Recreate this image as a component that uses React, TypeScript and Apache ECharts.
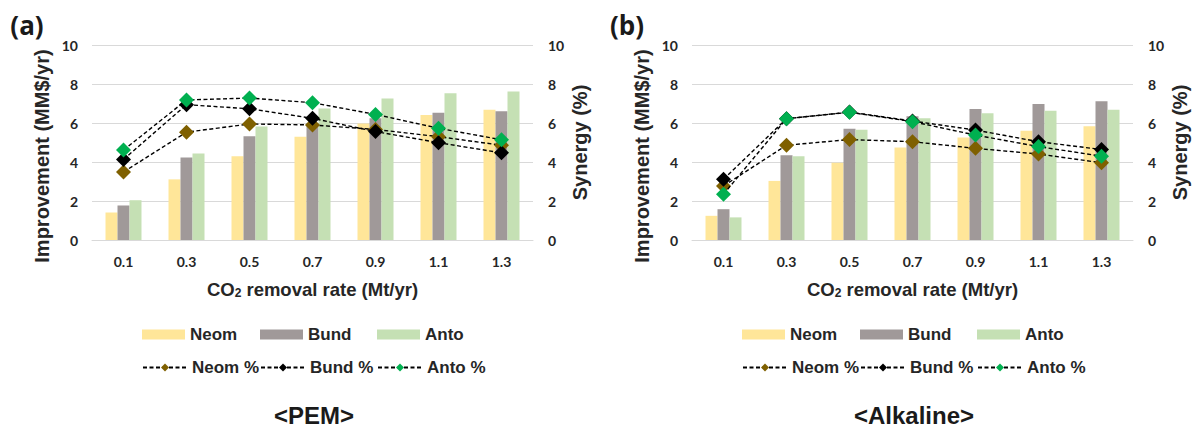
import React, { useEffect, useRef } from 'react';
import * as echarts from 'echarts';

const categories = ['0.1', '0.3', '0.5', '0.7', '0.9', '1.1', '1.3'];
const yTicks = [0, 2, 4, 6, 8, 10];

// (a) PEM
const pemNeom = [1.41, 3.11, 4.3, 5.3, 5.98, 6.41, 6.68];
const pemBund = [1.77, 4.23, 5.32, 6.0, 6.25, 6.53, 6.6];
const pemAnto = [2.04, 4.44, 5.82, 6.75, 7.26, 7.52, 7.62];
const pemNeomPct = [3.49, 5.53, 5.95, 5.9, 5.67, 5.3, 4.86];
const pemBundPct = [4.13, 6.94, 6.73, 6.24, 5.56, 4.99, 4.47];
const pemAntoPct = [4.61, 7.18, 7.28, 7.04, 6.44, 5.73, 5.14];

// (b) Alkaline
const alkNeom = [1.24, 3.03, 3.96, 4.74, 5.26, 5.6, 5.83];
const alkBund = [1.58, 4.35, 5.71, 6.34, 6.72, 6.97, 7.11];
const alkAnto = [1.16, 4.29, 5.66, 6.24, 6.5, 6.63, 6.68];
const alkNeomPct = [2.77, 4.86, 5.15, 5.04, 4.7, 4.41, 3.96];
const alkBundPct = [3.11, 6.22, 6.56, 6.1, 5.64, 5.04, 4.64];
const alkAntoPct = [2.35, 6.22, 6.55, 6.07, 5.38, 4.79, 4.3];

const barNames = ['Neom', 'Bund', 'Anto'];
const lineNames = ['Neom %', 'Bund %', 'Anto %'];
const panelLetters = ['(a)', '(b)'];
const panelTitles = ['<PEM>', '<Alkaline>'];
const xTitle = 'CO{sub|2} removal rate (Mt/yr)';
const yLeftTitle = 'Improvement (MM$/yr)';
const yRightTitle = 'Synergy (%)';

const barColors = ['#FFE699', '#A09999', '#C5E0B4'];
const markerColors = ['#7F6000', '#000000', '#00B050'];

const panels = [
  { bars: [pemNeom, pemBund, pemAnto], lines: [pemNeomPct, pemBundPct, pemAntoPct] },
  { bars: [alkNeom, alkBund, alkAnto], lines: [alkNeomPct, alkBundPct, alkAntoPct] },
];

const TXT = '#262626';
const ARIAL = '"Liberation Sans", Arial, sans-serif';
const LATO = 'Lato, "Liberation Sans", sans-serif';

export default function App() {
  const ref = useRef<HTMLDivElement>(null);
  useEffect(() => {
    if (!ref.current) return;
    const chart = echarts.init(ref.current, undefined, { renderer: 'svg' });
    const grid: any[] = [];
    const xAxis: any[] = [];
    const yAxis: any[] = [];
    const series: any[] = [];
    const legend: any[] = [];
    const graphic: any[] = [];
    panels.forEach((p, i) => {
      const off = i * 600;
      grid.push({ left: 92 + off, top: 45, width: 441, height: 195 });
      xAxis.push({
        type: 'category',
        gridIndex: i,
        data: categories,
        axisTick: { show: false },
        axisLine: { lineStyle: { color: '#D9D9D9', width: 1 } },
        axisLabel: { fontFamily: LATO, fontWeight: 'bold', fontSize: 14, color: TXT, margin: 14 },
        name: xTitle,
        nameLocation: 'middle',
        nameGap: 40,
        nameTextStyle: {
          fontFamily: ARIAL,
          fontWeight: 'bold',
          fontSize: 18.5,
          color: TXT,
          rich: { sub: { fontFamily: ARIAL, fontWeight: 'bold', fontSize: 12, color: TXT, padding: [6, 0, 0, 0] } },
        },
      });
      const yBase = {
        type: 'value',
        gridIndex: i,
        min: yTicks[0],
        max: yTicks[yTicks.length - 1],
        interval: 2,
        axisTick: { show: false },
        axisLine: { show: false },
        axisLabel: { fontFamily: LATO, fontWeight: 'bold', fontSize: 14, color: TXT },
      };
      yAxis.push({
        ...yBase,
        position: 'left',
        axisLabel: { ...yBase.axisLabel, margin: 14 },
        splitLine: { lineStyle: { color: '#D9D9D9', width: 1 } },
      });
      yAxis.push({
        ...yBase,
        position: 'right',
        name: yRightTitle,
        nameLocation: 'middle',
        nameRotate: 90,
        nameGap: 37,
        nameTextStyle: { fontFamily: ARIAL, fontWeight: 'bold', fontSize: 20, color: TXT },
        axisLabel: { ...yBase.axisLabel, margin: 15 },
        splitLine: { show: false },
      });
      p.bars.forEach((vals, k) => {
        series.push({
          type: 'bar',
          name: barNames[k],
          xAxisIndex: i,
          yAxisIndex: i * 2,
          data: vals,
          barWidth: 12,
          barGap: '0%',
          itemStyle: { color: barColors[k] },
          z: 2,
        });
      });
      p.lines.forEach((vals, k) => {
        series.push({
          type: 'line',
          name: lineNames[k],
          xAxisIndex: i,
          yAxisIndex: i * 2 + 1,
          data: vals,
          symbol: 'diamond',
          symbolSize: 15,
          lineStyle: { color: '#000', width: 1.4, type: [4, 2.5] },
          itemStyle: { color: markerColors[k] },
          z: 3 + k,
        });
      });
      const cols = [142, 260, 377];
      barNames.forEach((n, k) => {
        legend.push({
          data: [{ name: n, icon: 'rect' }],
          left: cols[k] + off,
          top: 326,
          padding: 0,
          itemWidth: 43,
          itemHeight: 10,
          itemGap: 6,
          selectedMode: false,
          textStyle: { fontFamily: ARIAL, fontWeight: 'bold', fontSize: 17, color: TXT },
        });
      });
      lineNames.forEach((n, k) => {
        legend.push({
          data: [n],
          left: cols[k] + off,
          top: 359,
          padding: 0,
          itemWidth: 44,
          itemHeight: 10,
          selectedMode: false,
          textStyle: { fontFamily: ARIAL, fontWeight: 'bold', fontSize: 17, color: TXT },
        });
      });
      graphic.push({
        type: 'text',
        x: 42 + off,
        y: 156,
        rotation: Math.PI / 2,
        style: {
          text: yLeftTitle,
          align: 'center',
          verticalAlign: 'middle',
          font: 'bold 20px "Liberation Sans", Arial, sans-serif',
          fill: TXT,
        },
      });
      graphic.push({
        type: 'text',
        x: 27 + off,
        y: 25,
        style: {
          text: panelLetters[i],
          align: 'center',
          verticalAlign: 'middle',
          font: 'bold 26px "Open Sans", sans-serif',
          fill: '#1a1a1a',
        },
      });
      graphic.push({
        type: 'text',
        x: 314 + off,
        y: 415,
        style: {
          text: panelTitles[i],
          align: 'center',
          verticalAlign: 'middle',
          font: 'bold 24px "Liberation Sans", Arial, sans-serif',
          fill: '#1a1a1a',
        },
      });
    });
    chart.setOption({
      animation: false,
      backgroundColor: '#ffffff',
      grid,
      xAxis,
      yAxis,
      series,
      legend,
      graphic,
    });
    return () => chart.dispose();
  }, []);
  return (
    <div
      ref={ref}
      style={{ position: 'fixed', left: 0, top: 0, width: 1195, height: 427, background: '#fff' }}
    />
  );
}
